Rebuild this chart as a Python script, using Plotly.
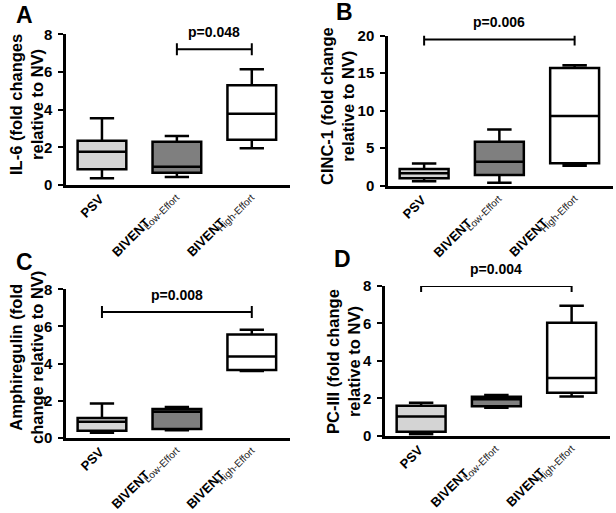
import plotly.graph_objects as go

# ---------------- data ----------------
categories = ["PSV", "BIVENT Low-Effort", "BIVENT High-Effort"]
tick_main = ["PSV", "BIVENT", "BIVENT"]
tick_sub = ["", "Low-Effort", "High-Effort"]
group_colors = ["#d4d4d4", "#7f7f7f", "#ffffff"]

# Panel A: IL-6
a_min = [0.36, 0.42, 1.95]
a_q1 = [0.83, 0.65, 2.40]
a_med = [1.77, 0.97, 3.78]
a_q3 = [2.35, 2.30, 5.30]
a_max = [3.55, 2.60, 6.15]

# Panel B: CINC-1
b_min = [0.58, 0.40, 2.67]
b_q1 = [0.98, 1.43, 2.99]
b_med = [1.65, 3.20, 9.29]
b_q3 = [2.23, 5.87, 15.70]
b_max = [2.95, 7.50, 16.05]

# Panel C: Amphiregulin
c_min = [0.27, 0.40, 3.60]
c_q1 = [0.38, 0.47, 3.65]
c_med = [0.86, 1.40, 4.38]
c_q3 = [1.06, 1.55, 5.57]
c_max = [1.85, 1.65, 5.82]

# Panel D: PC-III
d_min = [0.08, 1.50, 2.09]
d_q1 = [0.21, 1.58, 2.30]
d_med = [1.02, 1.95, 3.09]
d_q3 = [1.60, 2.08, 6.03]
d_max = [1.76, 2.18, 6.94]

panel_letters = ["A", "B", "C", "D"]
y_titles = [
    "IL-6 (fold changes<br>relative to NV)",
    "CINC-1 (fold change<br>relative to NV)",
    "Amphiregulin (fold<br>change relative to NV)",
    "PC-III (fold change<br>relative to NV)",
]
y_max = [8, 20, 8, 8]
y_dtick = [2, 5, 2, 2]

# significance brackets: from group index, to group index, height, label
sig_from = [1, 0, 0, 0]
sig_to = [2, 2, 2, 2]
sig_y = [7.2, 19.5, 6.78, 8.0]
sig_text = ["p=0.048", "p=0.006", "p=0.008", "p=0.004"]

panels = [
    (a_min, a_q1, a_med, a_q3, a_max),
    (b_min, b_q1, b_med, b_q3, b_max),
    (c_min, c_q1, c_med, c_q3, c_max),
    (d_min, d_q1, d_med, d_q3, d_max),
]

# ---------------- layout geometry (pixels) ----------------
W, H = 616, 513
panel_px = [
    ((66, 290), (34.3, 185)),
    ((388, 613), (35.7, 185.7)),
    ((66, 290), (289.3, 437.7)),
    ((385, 610), (286, 435.7)),
]
letter_pos = [(24, 15), (344, 12), (24, 262), (343, 259)]
title_pos = [(26, 105), (337, 106), (26, 358), (343, 361)]

FONT = "Liberation Sans, Arial, sans-serif"

fig = go.Figure()
layout = dict(
    template="none",
    width=W, height=H,
    margin=dict(l=0, r=0, t=0, b=0, autoexpand=False),
    paper_bgcolor="white", plot_bgcolor="white",
    showlegend=False,
    font=dict(family=FONT, color="black"),
    shapes=[], annotations=[],
)

for i, (mn, q1, med, q3, mx) in enumerate(panels):
    k = "" if i == 0 else str(i + 1)
    xr, yr = panel_px[i]
    xa, ya = "x" + k, "y" + k
    for g in range(len(categories)):
        fig.add_trace(go.Box(
            x=[g], lowerfence=[mn[g]], q1=[q1[g]], median=[med[g]],
            q3=[q3[g]], upperfence=[mx[g]],
            name=categories[g], width=0.65, whiskerwidth=0.5,
            fillcolor=group_colors[g],
            line=dict(color="black", width=2.5),
            boxpoints=False, hoverinfo="skip",
            xaxis=xa, yaxis=ya,
        ))
        # rotated category labels hanging below the axis
        has_sub = bool(tick_sub[g])
        if has_sub:
            layout["annotations"].append(dict(
                xref=xa, yref=ya, x=g, y=0,
                text=tick_sub[g], showarrow=False, textangle=-45,
                xanchor="right", yanchor="top", xshift=8, yshift=-4,
                font=dict(size=10, family=FONT, color="#222222"),
            ))
        layout["annotations"].append(dict(
            xref=xa, yref=ya, x=g, y=0,
            text="<b>" + tick_main[g] + "</b>", showarrow=False, textangle=-45,
            xanchor="right", yanchor="top",
            xshift=-21 if has_sub else 7, yshift=-27 if has_sub else -4,
            font=dict(size=13, family=FONT),
        ))
    layout["xaxis" + k] = dict(
        domain=[xr[0] / W, xr[1] / W], anchor=ya, automargin=False,
        range=[-0.48, 2.51],
        showticklabels=False,
        showline=True, linecolor="black", linewidth=2.5,
        ticks="", showgrid=False, zeroline=False,
    )
    layout["yaxis" + k] = dict(
        domain=[1 - yr[1] / H, 1 - yr[0] / H], anchor=xa, automargin=False,
        range=[0, y_max[i]], dtick=y_dtick[i], tick0=0,
        showline=True, linecolor="black", linewidth=2.5,
        ticks="outside", ticklen=5, tickwidth=2, tickcolor="black",
        tickfont=dict(size=15, family=FONT, weight="bold"),
        ticklabelstandoff=3,
        showgrid=False, zeroline=False,
    )
    # significance bracket
    layout["shapes"].append(dict(
        type="line", xref=xa, yref=ya,
        x0=sig_from[i], x1=sig_to[i], y0=sig_y[i], y1=sig_y[i],
        line=dict(color="black", width=2),
    ))
    for xe in (sig_from[i], sig_to[i]):
        layout["shapes"].append(dict(
            type="line", xref=xa, yref=ya, ysizemode="pixel", yanchor=sig_y[i],
            x0=xe, x1=xe, y0=-6, y1=6,
            line=dict(color="black", width=2),
        ))
    layout["annotations"].append(dict(
        xref=xa, yref=ya, x=(sig_from[i] + sig_to[i]) / 2, y=sig_y[i],
        text="<b>" + sig_text[i] + "</b>", showarrow=False,
        xanchor="center", yanchor="middle", yshift=17,
        font=dict(size=14, family=FONT),
    ))
    # panel letter
    lx, ly = letter_pos[i]
    layout["annotations"].append(dict(
        xref="paper", yref="paper", x=lx / W, y=1 - ly / H,
        text="<b>" + panel_letters[i] + "</b>", showarrow=False,
        xanchor="center", yanchor="middle",
        font=dict(size=23, family=FONT),
    ))
    # y title
    tx, ty = title_pos[i]
    layout["annotations"].append(dict(
        xref="paper", yref="paper", x=tx / W, y=1 - ty / H,
        text="<b>" + y_titles[i] + "</b>", showarrow=False, textangle=-90,
        xanchor="center", yanchor="middle",
        font=dict(size=16.5, family=FONT),
    ))

fig.update_layout(**layout)
fig.write_html(
    "out.html",
    config={"displayModeBar": False},
    post_script="document.body.style.margin='0px';document.body.style.overflow='hidden';",
)
